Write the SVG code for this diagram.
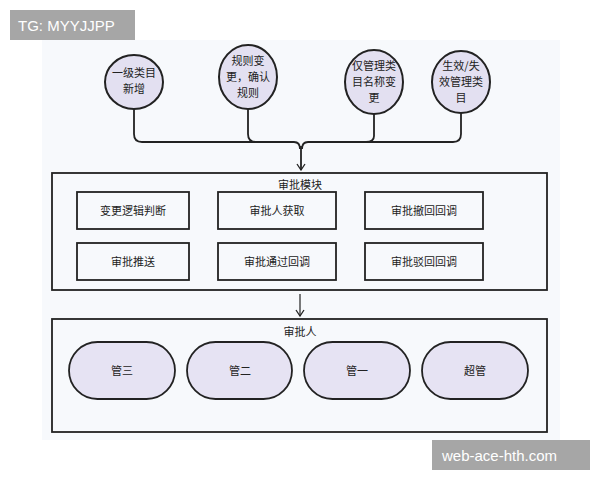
<svg xmlns="http://www.w3.org/2000/svg" width="600" height="480" viewBox="0 0 600 480">
<style>
.t{font-family:"Noto Sans CJK SC","Liberation Sans",sans-serif;font-size:11px;fill:#222;text-anchor:middle}
.c{fill:#e3e0f1;stroke:#222;stroke-width:2}
.b{fill:none;stroke:#222;stroke-width:1.8}
.p{fill:#e6e3f3;stroke:#222;stroke-width:1.8}
.w{font-family:"Liberation Sans",sans-serif;font-size:15px;fill:#fff}
</style>
<defs><marker id="a" markerWidth="10" markerHeight="10" refX="9" refY="5" orient="auto" markerUnits="userSpaceOnUse"><path d="M3,1 L9,5 L3,9" fill="none" stroke="#222" stroke-width="1.3"/></marker></defs>
<rect width="600" height="480" fill="#fff"/>
<rect x="42" y="40" width="518" height="400" fill="#f7f9fc"/>
<g id="connectors" fill="none" stroke="#222" stroke-width="1.8">
<path d="M134,109 V134 Q134,142 142,142 H294 Q300,142 300,149"/>
<path d="M248,109 V134 Q248,142 256,142"/>
<path d="M374,114 V136 Q374,142 366,142"/>
<path d="M461,113 V134 Q461,142 453,142 H308 Q302,142 302,149"/>
<path d="M301,146 V170" marker-end="url(#a)"/>
<path d="M300,294 V316" stroke-width="1.2" marker-end="url(#a)"/>
</g>
<g id="n1"><ellipse class="c" cx="134" cy="82" rx="29" ry="27"/><text class="t" x="134" y="77">一级类目</text><text class="t" x="134" y="93">新增</text></g>
<g id="n2"><ellipse class="c" cx="248" cy="77" rx="29" ry="32"/><text class="t" x="248" y="65">规则变</text><text class="t" x="248" y="81">更，确认</text><text class="t" x="248" y="97">规则</text></g>
<g id="n3"><ellipse class="c" cx="374" cy="82" rx="29" ry="32"/><text class="t" x="374" y="70">仅管理类</text><text class="t" x="374" y="86">目名称变</text><text class="t" x="374" y="102">更</text></g>
<g id="n4"><ellipse class="c" cx="461" cy="82" rx="29" ry="31"/><text class="t" x="461" y="70">生效/失</text><text class="t" x="461" y="86">效管理类</text><text class="t" x="461" y="102">目</text></g>
<g id="module"><rect class="b" x="52" y="173" width="495" height="117" fill="#f4f6fb"/><text class="t" x="300" y="189">审批模块</text></g>
<g id="m1"><rect class="b" x="77" y="192" width="112" height="37"/><text class="t" x="133" y="215">变更逻辑判断</text></g>
<g id="m2"><rect class="b" x="218" y="192" width="118" height="37"/><text class="t" x="277" y="215">审批人获取</text></g>
<g id="m3"><rect class="b" x="365" y="192" width="118" height="37"/><text class="t" x="424" y="215">审批撤回回调</text></g>
<g id="m4"><rect class="b" x="77" y="243" width="112" height="37"/><text class="t" x="133" y="266">审批推送</text></g>
<g id="m5"><rect class="b" x="218" y="243" width="118" height="37"/><text class="t" x="277" y="266">审批通过回调</text></g>
<g id="m6"><rect class="b" x="365" y="243" width="118" height="37"/><text class="t" x="424" y="266">审批驳回回调</text></g>
<g id="approvers"><rect class="b" x="52" y="319" width="495" height="113" fill="#f7f9fc"/><text class="t" x="300" y="336">审批人</text></g>
<g id="a1"><rect class="p" x="69" y="342" width="106" height="57" rx="28.5"/><text class="t" x="122" y="375">管三</text></g>
<g id="a2"><rect class="p" x="187" y="342" width="105" height="57" rx="28.5" stroke="#555" stroke-width="1.2"/><text class="t" x="240" y="375">管二</text></g>
<g id="a3"><rect class="p" x="304" y="342" width="106" height="57" rx="28.5"/><text class="t" x="357" y="375">管一</text></g>
<g id="a4"><rect class="p" x="422" y="342" width="106" height="57" rx="28.5"/><text class="t" x="475" y="375">超管</text></g>
<rect x="10" y="10" width="125" height="30" fill="#a6a6a6"/><text class="w" x="18" y="31">TG: MYYJJPP</text>
<rect x="432" y="440" width="158" height="30" fill="#a6a6a6"/><text class="w" x="442" y="461">web-ace-hth.com</text>
</svg>
